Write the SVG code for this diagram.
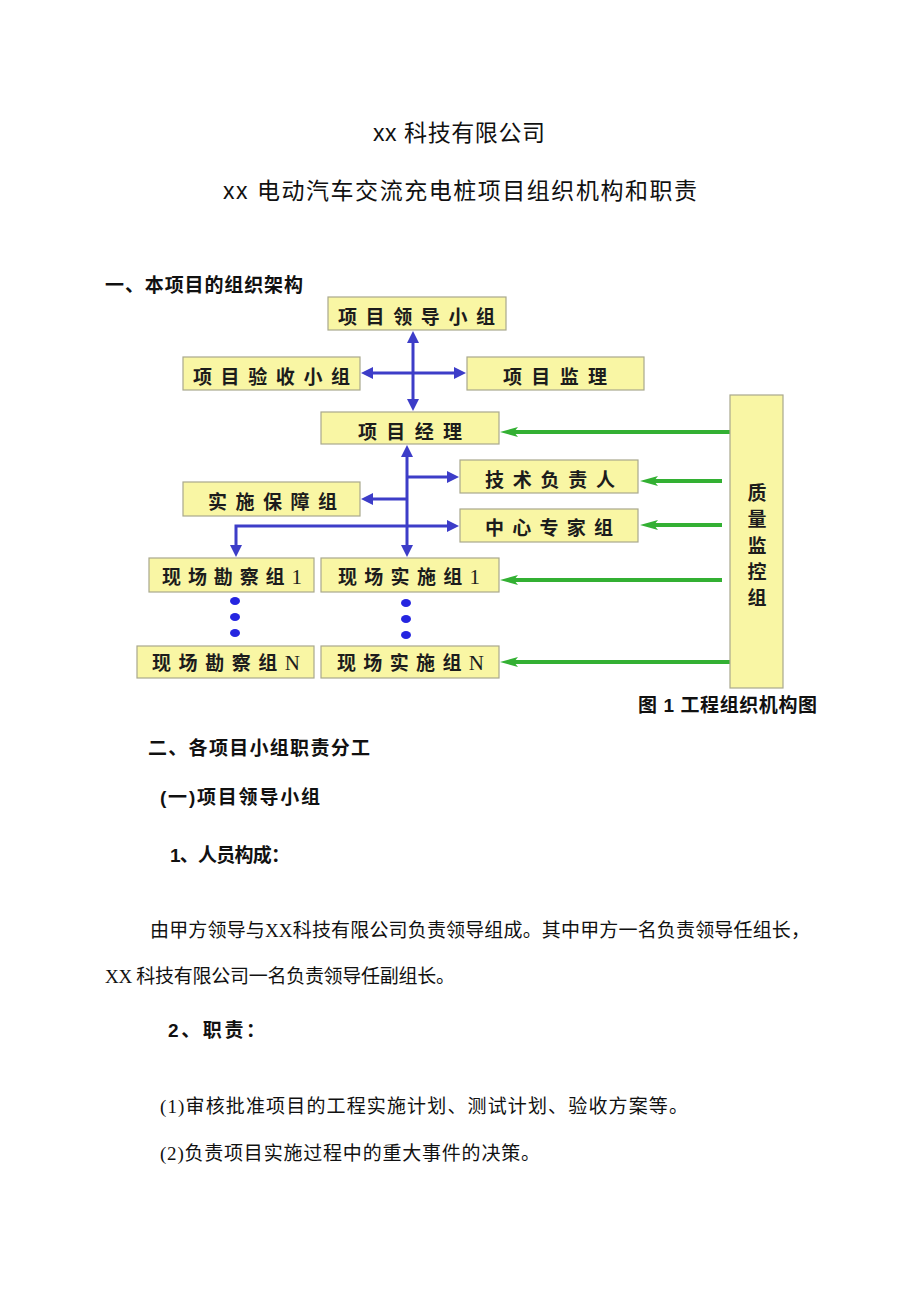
<svg xmlns="http://www.w3.org/2000/svg" width="920" height="1301" viewBox="0 0 920 1301">
<style>
.box{fill:#f9f6a4;stroke:#a9a88e;stroke-width:1.2}
.bt{font-family:"Noto Sans CJK SC","Liberation Sans",sans-serif;font-weight:700;font-size:19px;fill:#1c1c1c}
.lat{font-family:"Liberation Serif",serif;font-weight:400;font-size:21px}
.blue{fill:none;stroke:#3d3dc8;stroke-width:3}
.green{fill:none;stroke:#33b033;stroke-width:4}
.dot{fill:#2525e0}
.title{font-family:"Liberation Sans","Noto Sans CJK SC",sans-serif;font-size:23px;fill:#111}
.h{font-family:"Liberation Sans","Noto Sans CJK SC",sans-serif;font-weight:700;font-size:19px;fill:#111}
.p{font-family:"Liberation Serif","Noto Sans CJK SC",serif;font-size:19px;fill:#111}
</style>
<defs>
<marker id="ab" viewBox="0 0 12 12" markerWidth="12" markerHeight="12" refX="2" refY="6" orient="auto-start-reverse" markerUnits="userSpaceOnUse"><path d="M0,0 L12,6 L0,12 z" fill="#3d3dc8"/></marker>
<marker id="ag" viewBox="0 0 18 12" markerWidth="18" markerHeight="12" refX="4" refY="6" orient="auto" markerUnits="userSpaceOnUse"><path d="M0,1 L18,6 L0,11 L4,6 z" fill="#33b033"/></marker>
</defs>
<rect width="920" height="1301" fill="#ffffff"/>

<g id="titles">
<text class="title" x="373" y="141" textLength="172" lengthAdjust="spacing">xx 科技有限公司</text>
<text class="title" x="223" y="199" textLength="474" lengthAdjust="spacing">xx 电动汽车交流充电桩项目组织机构和职责</text>
<text class="h" x="105" y="292" textLength="198" lengthAdjust="spacing">一、本项目的组织架构</text>
</g>

<g id="connectors">
<line class="blue" x1="413" y1="341" x2="413" y2="401" marker-start="url(#ab)" marker-end="url(#ab)"/>
<line class="blue" x1="371" y1="373" x2="456" y2="373" marker-start="url(#ab)" marker-end="url(#ab)"/>
<line class="blue" x1="407" y1="455" x2="407" y2="547" marker-start="url(#ab)" marker-end="url(#ab)"/>
<line class="blue" x1="407" y1="477" x2="449" y2="477" marker-end="url(#ab)"/>
<line class="blue" x1="407" y1="499" x2="371" y2="499" marker-end="url(#ab)"/>
<path class="blue" d="M449,526 L236,526 L236,547" marker-start="url(#ab)" marker-end="url(#ab)"/>
<line class="green" x1="730" y1="432" x2="514" y2="432" marker-end="url(#ag)"/>
<line class="green" x1="722" y1="481" x2="654" y2="481" marker-end="url(#ag)"/>
<line class="green" x1="722" y1="525" x2="654" y2="525" marker-end="url(#ag)"/>
<line class="green" x1="722" y1="580" x2="514" y2="580" marker-end="url(#ag)"/>
<line class="green" x1="730" y1="662" x2="514" y2="662" marker-end="url(#ag)"/>
<ellipse class="dot" cx="235" cy="601" rx="5" ry="4"/>
<ellipse class="dot" cx="235" cy="617" rx="5" ry="4"/>
<ellipse class="dot" cx="235" cy="633" rx="5" ry="4"/>
<ellipse class="dot" cx="406" cy="603" rx="5" ry="4"/>
<ellipse class="dot" cx="406" cy="619" rx="5" ry="4"/>
<ellipse class="dot" cx="406" cy="635" rx="5" ry="4"/>
</g>

<g id="n-lead"><rect class="box" x="328" y="297" width="178" height="33"/><text class="bt" x="338" y="324" textLength="157" lengthAdjust="spacing">项目领导小组</text></g>
<g id="n-accept"><rect class="box" x="183" y="357" width="177" height="33"/><text class="bt" x="193" y="384" textLength="157" lengthAdjust="spacing">项目验收小组</text></g>
<g id="n-super"><rect class="box" x="467" y="357" width="177" height="33"/><text class="bt" x="503" y="384" textLength="104" lengthAdjust="spacing">项目监理</text></g>
<g id="n-pm"><rect class="box" x="321" y="412" width="178" height="32"/><text class="bt" x="358" y="439" textLength="104" lengthAdjust="spacing">项目经理</text></g>
<g id="n-tech"><rect class="box" x="460" y="460" width="178" height="33"/><text class="bt" x="485" y="487" textLength="130" lengthAdjust="spacing">技术负责人</text></g>
<g id="n-support"><rect class="box" x="183" y="482" width="177" height="34"/><text class="bt" x="208" y="509" textLength="129" lengthAdjust="spacing">实施保障组</text></g>
<g id="n-expert"><rect class="box" x="460" y="509" width="178" height="33"/><text class="bt" x="485" y="535" textLength="128" lengthAdjust="spacing">中心专家组</text></g>
<g id="n-survey1"><rect class="box" x="149" y="558" width="165" height="34"/><text class="bt" x="162" y="584" textLength="140" lengthAdjust="spacing">现场勘察组<tspan class="lat">1</tspan></text></g>
<g id="n-impl1"><rect class="box" x="321" y="558" width="178" height="34"/><text class="bt" x="338" y="584" textLength="142" lengthAdjust="spacing">现场实施组<tspan class="lat">1</tspan></text></g>
<g id="n-surveyN"><rect class="box" x="137" y="646" width="177" height="32"/><text class="bt" x="152" y="670" textLength="148" lengthAdjust="spacing">现场勘察组<tspan class="lat">N</tspan></text></g>
<g id="n-implN"><rect class="box" x="321" y="646" width="178" height="32"/><text class="bt" x="337" y="670" textLength="147" lengthAdjust="spacing">现场实施组<tspan class="lat">N</tspan></text></g>
<g id="n-qc"><rect class="box" x="730" y="395" width="53" height="293"/>
<text class="bt" x="757" text-anchor="middle" font-size="19"><tspan x="757" y="500">质</tspan><tspan x="757" y="526">量</tspan><tspan x="757" y="553">监</tspan><tspan x="757" y="579">控</tspan><tspan x="757" y="605">组</tspan></text></g>

<g id="body">
<text class="h" x="638" y="712" textLength="179" lengthAdjust="spacing">图 1 工程组织机构图</text>
<text class="h" x="148" y="755" textLength="222" lengthAdjust="spacing">二、各项目小组职责分工</text>
<text class="h" x="160" y="804" textLength="160" lengthAdjust="spacing">(一)项目领导小组</text>
<text class="h" x="170" y="862" textLength="120" lengthAdjust="spacing">1、人员构成：</text>
<text class="p" x="150" y="937" textLength="660" lengthAdjust="spacing">由甲方领导与XX科技有限公司负责领导组成。其中甲方一名负责领导任组长，</text>
<text class="p" x="105" y="983" textLength="350" lengthAdjust="spacing">XX 科技有限公司一名负责领导任副组长。</text>
<text class="h" x="168" y="1037" textLength="97" lengthAdjust="spacing">2、职责：</text>
<text class="p" x="160" y="1113" textLength="528" lengthAdjust="spacing">(1)审核批准项目的工程实施计划、测试计划、验收方案等。</text>
<text class="p" x="160" y="1160" textLength="380" lengthAdjust="spacing">(2)负责项目实施过程中的重大事件的决策。</text>
</g>
</svg>
